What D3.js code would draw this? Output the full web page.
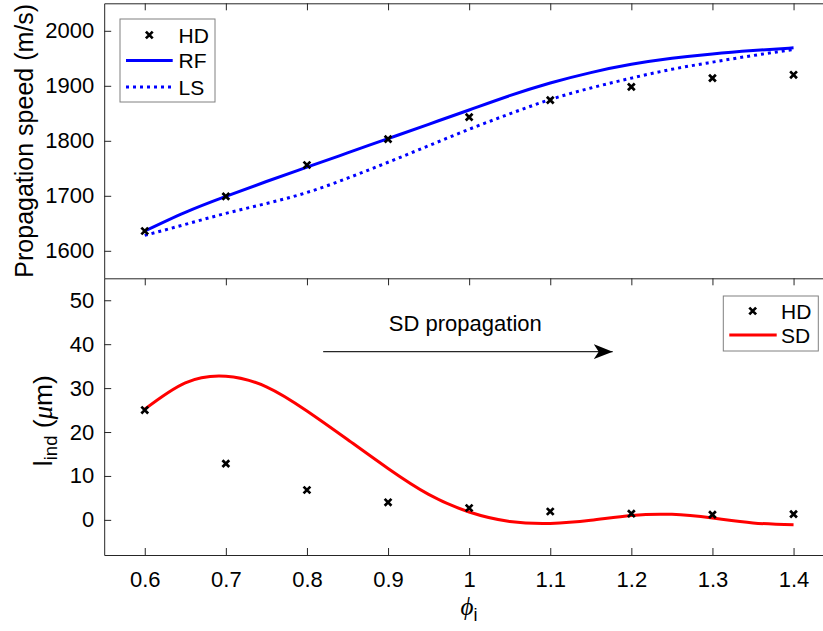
<!DOCTYPE html>
<html>
<head>
<meta charset="utf-8">
<script src="https://cdn.jsdelivr.net/npm/d3@7"></script>
<style>
  body { margin: 0; background: #fff; }
  text { font-family: "Liberation Sans", Arial, Helvetica, sans-serif; fill: #000; }
</style>
</head>
<body>
<div id="chart"></div>
<script>
// phi values of the HD points
const phiHD = [0.6, 0.7, 0.8, 0.9, 1.0, 1.1, 1.2, 1.3, 1.4];
// propagation speed (m/s)
const speedHD = [1636, 1699, 1756, 1803, 1843, 1874, 1898, 1914, 1920];
// phi samples for the smooth curves
const phiCurve = [0.6, 0.65, 0.7, 0.75, 0.8, 0.85, 0.9, 0.95, 1.0, 1.05, 1.1, 1.15, 1.2, 1.25, 1.3, 1.35, 1.4];
const speedRF = [1636, 1670, 1699, 1726, 1752, 1778, 1804, 1830, 1856, 1882, 1905, 1924, 1939, 1950, 1958, 1964, 1969];
const speedLS = [1628, 1648, 1668, 1686, 1706, 1732, 1761, 1791, 1821, 1849, 1875, 1896, 1914, 1930, 1943, 1955, 1966];
// l_ind (um)
const lindHD = [25.0, 12.8, 6.8, 4.0, 2.7, 1.9, 1.4, 1.2, 1.3];
const lindSD = [25.2, 31.2, 32.7, 30.3, 24.8, 18.3, 11.7, 5.8, 1.8, -0.35, -0.8, -0.1, 1.0, 1.25, 0.4, -0.7, -1.1];
// ticks
const xTicks = [0.6, 0.7, 0.8, 0.9, 1.0, 1.1, 1.2, 1.3, 1.4];
const speedTicks = [1600, 1700, 1800, 1900, 2000];
const lindTicks = [0, 10, 20, 30, 40, 50];
// annotation: arrow from / to, text anchor (data units of the lower panel)
const arrowFrom = [0.82, 38.3];
const arrowTo = [1.177, 38.3];
const noteAt = [0.901, 42.9];

const W = 823, H = 631;
const axisColor = "#262626";

const svg = d3.select("#chart").append("svg")
  .attr("width", W).attr("height", H)
  .style("background", "#fff");

//scales
const x = d3.scaleLinear().domain([0.55, 1.45]).range([104.2, 834.1]);
const ySpeed = d3.scaleLinear().domain([1550, 2050]).range([278.3, 3.3]);
const yLind = d3.scaleLinear().domain([-8, 55]).range([555, 278.3]);

const fmt = d => String(d);

function styleAxis(g, fs) {
  g.select(".domain").attr("stroke", axisColor).attr("stroke-width", 1);
  g.selectAll(".tick line").attr("stroke", axisColor).attr("stroke-width", 1);
  g.selectAll(".tick text").attr("fill", "#262626").attr("font-size", fs)
    .attr("font-family", '"Liberation Sans", Arial, sans-serif');
}

// top panel : left axis
svg.append("g").attr("transform", `translate(${x(0.55)},0)`)
  .call(d3.axisLeft(ySpeed).tickValues(speedTicks).tickFormat(fmt).tickSizeInner(-7).tickSizeOuter(0).tickPadding(10))
  .call(g => styleAxis(g, 22));
// top panel : top border with inward ticks
svg.append("g").attr("transform", `translate(0,${ySpeed(2050)})`)
  .call(d3.axisTop(x).tickValues(xTicks).tickFormat("").tickSizeInner(-7).tickSizeOuter(0))
  .call(g => styleAxis(g, 22));

// bottom panel : left axis
svg.append("g").attr("transform", `translate(${x(0.55)},0)`)
  .call(d3.axisLeft(yLind).tickValues(lindTicks).tickFormat(fmt).tickSizeInner(-7).tickSizeOuter(0).tickPadding(10))
  .call(g => styleAxis(g, 22));
// bottom panel : top border (shared line) with ticks pointing down
svg.append("g").attr("transform", `translate(0,${yLind(55)})`)
  .call(d3.axisTop(x).tickValues(xTicks).tickFormat("").tickSizeInner(-7).tickSizeOuter(0))
  .call(g => styleAxis(g, 22));
// bottom panel : x axis
svg.append("g").attr("transform", `translate(0,${yLind(-8)})`)
  .call(d3.axisBottom(x).tickValues(xTicks).tickFormat(fmt).tickSizeInner(-7).tickSizeOuter(0).tickPadding(16))
  .call(g => styleAxis(g, 22));

// curves
const lineSpeed = d3.line().x((d, i) => x(phiCurve[i])).y(d => ySpeed(d)).curve(d3.curveNatural);
const lineLind = d3.line().x((d, i) => x(phiCurve[i])).y(d => yLind(d)).curve(d3.curveNatural);

svg.append("path").attr("d", lineSpeed(speedRF))
  .attr("fill", "none").attr("stroke", "#0000ff").attr("stroke-width", 3);
svg.append("path").attr("d", lineSpeed(speedLS))
  .attr("fill", "none").attr("stroke", "#0000ff").attr("stroke-width", 3)
  .attr("stroke-dasharray", "3,4");
svg.append("path").attr("d", lineLind(lindSD))
  .attr("fill", "none").attr("stroke", "#ff0000").attr("stroke-width", 3);

// x markers
const cross = "M-3.4,-3.4L3.4,3.4M-3.4,3.4L3.4,-3.4";
function markers(vals, yScale) {
  svg.append("g").selectAll("path").data(vals).join("path")
    .attr("transform", (d, i) => `translate(${x(phiHD[i])},${yScale(d)})`)
    .attr("d", cross).attr("stroke", "#000").attr("stroke-width", 2.7).attr("fill", "none");
}
markers(speedHD, ySpeed);
markers(lindHD, yLind);

// annotation arrow
svg.append("defs").append("marker")
  .attr("id", "head").attr("markerUnits", "userSpaceOnUse")
  .attr("markerWidth", 24).attr("markerHeight", 20)
  .attr("refX", 19).attr("refY", 8).attr("orient", "auto")
  .append("path").attr("d", "M19,8L0,0.5L5,8L0,15.5Z").attr("fill", "#000");
svg.append("line")
  .attr("x1", x(arrowFrom[0])).attr("y1", yLind(arrowFrom[1]))
  .attr("x2", x(arrowTo[0])).attr("y2", yLind(arrowTo[1]))
  .attr("stroke", axisColor).attr("stroke-width", 1.3)
  .attr("marker-end", "url(#head)");
svg.append("text").attr("x", x(noteAt[0])).attr("y", yLind(noteAt[1]))
  .attr("font-size", 22).text("SD propagation");

// legends
function legend(x0, y0, w, h, rows) {
  const g = svg.append("g");
  g.append("rect").attr("x", x0).attr("y", y0).attr("width", w).attr("height", h)
    .attr("fill", "#fff").attr("stroke", "#808080").attr("stroke-width", 1);
  rows.forEach(r => {
    if (r.type === "marker") {
      g.append("path").attr("transform", `translate(${r.mx},${r.y})`).attr("d", cross)
        .attr("stroke", "#000").attr("stroke-width", 2.7).attr("fill", "none");
    } else {
      g.append("line").attr("x1", r.x1).attr("x2", r.x2).attr("y1", r.y).attr("y2", r.y)
        .attr("stroke", r.color).attr("stroke-width", 3)
        .attr("stroke-dasharray", r.dash || null);
    }
    g.append("text").attr("x", r.tx).attr("y", r.y).attr("dy", "0.36em")
      .attr("font-size", 21).text(r.label);
  });
}
legend(120, 19, 95, 83, [
  { type: "marker", mx: 149.3, y: 35, tx: 178.5, label: "HD" },
  { type: "line", x1: 126, x2: 172.7, y: 60.5, color: "#0000ff", tx: 178.5, label: "RF" },
  { type: "line", x1: 126, x2: 172.7, y: 87, color: "#0000ff", dash: "3,4", tx: 178.5, label: "LS" }
]);
legend(723.3, 296, 95, 55, [
  { type: "marker", mx: 752.7, y: 311, tx: 781, label: "HD" },
  { type: "line", x1: 729.3, x2: 776.7, y: 335, color: "#ff0000", tx: 781, label: "SD" }
]);

// axis labels
svg.append("text")
  .attr("transform", `translate(33,${(ySpeed(2050) + ySpeed(1550)) / 2}) rotate(-90)`)
  .attr("text-anchor", "middle").attr("font-size", 25)
  .text("Propagation speed (m/s)");

const yl = svg.append("text")
  .attr("transform", `translate(51.5,${(yLind(55) + yLind(-8)) / 2 + 4}) rotate(-90)`)
  .attr("text-anchor", "middle").attr("font-size", 26.5);
yl.append("tspan").text("l");
yl.append("tspan").attr("font-size", 18.5).attr("dy", 5).text("ind");
yl.append("tspan").attr("dy", -5).text(" (");
yl.append("tspan").attr("font-style", "italic").attr("font-family", '"Liberation Serif", serif').text("\u03BC");
yl.append("tspan").text("m)");

const xl = svg.append("text")
  .attr("x", 469).attr("y", 615).attr("text-anchor", "middle").attr("font-size", 25);
xl.append("tspan").attr("font-family", '"Liberation Serif", "DejaVu Serif", serif')
  .attr("font-style", "italic").text("\u03D5");
xl.append("tspan").attr("font-size", 18).attr("dy", 6).text("i");
</script>
</body>
</html>
